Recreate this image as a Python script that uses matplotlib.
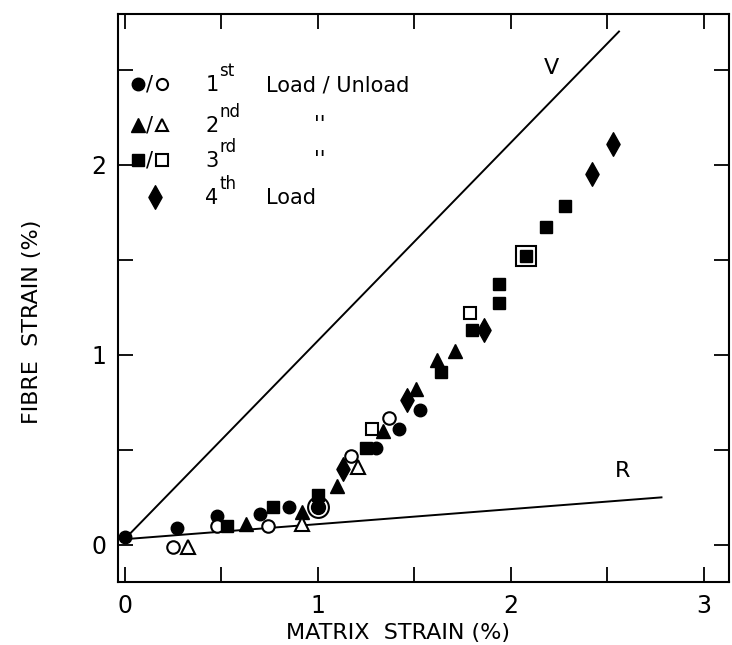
import matplotlib
matplotlib.use("Agg")
import matplotlib.pyplot as plt
from matplotlib.path import Path

# --- data (matrix strain %, fibre strain %) ---
load1_x = [0.00, 0.27, 0.48, 0.70, 0.85, 1.00, 1.30, 1.42, 1.53]
load1_y = [0.04, 0.09, 0.15, 0.16, 0.20, 0.20, 0.51, 0.61, 0.71]
unload1_x = [0.25, 0.48, 0.74, 1.17, 1.37]
unload1_y = [-0.01, 0.10, 0.10, 0.47, 0.67]
load2_x = [0.63, 0.92, 1.10, 1.34, 1.51, 1.62, 1.71]
load2_y = [0.11, 0.175, 0.31, 0.60, 0.82, 0.97, 1.02]
unload2_x = [0.33, 0.92, 1.21]
unload2_y = [-0.01, 0.11, 0.41]
load3_x = [0.53, 0.77, 1.00, 1.25, 1.64, 1.80, 1.94, 1.94, 2.08, 2.18, 2.28]
load3_y = [0.10, 0.20, 0.26, 0.51, 0.91, 1.13, 1.27, 1.37, 1.52, 1.67, 1.78]
unload3_x = [1.28, 1.79]
unload3_y = [0.61, 1.22]
load4_x = [1.13, 1.46, 1.86, 2.42, 2.53]
load4_y = [0.40, 0.76, 1.13, 1.95, 2.11]
# points where load and unload coincide (drawn with an outer ring)
ring_circ_x, ring_circ_y = [1.00], [0.20]
ring_sq_x, ring_sq_y = [2.08], [1.52]

# Voigt / Reuss bounds
v_x = [0.0, 2.56]
v_y = [0.03, 2.70]
r_x = [0.0, 2.78]
r_y = [0.03, 0.25]

plt.rcParams["font.family"] = ["DejaVu Sans"]

# diamond a bit slimmer than matplotlib's 'D'
diamond = Path([(0, 1), (0.56, 0), (0, -1), (-0.56, 0), (0, 1)],
               [Path.MOVETO, Path.LINETO, Path.LINETO, Path.LINETO, Path.CLOSEPOLY])

fig = plt.figure(figsize=(7.32, 6.45), dpi=100)
ax = fig.add_axes([0.161, 0.0977, 0.835, 0.880])

ax.plot(v_x, v_y, color="black", lw=1.4)
ax.plot(r_x, r_y, color="black", lw=1.4)

mk = dict(color="black", linestyle="none", clip_on=False)
ax.plot(load1_x, load1_y, marker="o", ms=9, **mk)
ax.plot(unload1_x, unload1_y, marker="o", ms=9, mfc="white", mew=1.5, **mk)
ax.plot(ring_circ_x, ring_circ_y, marker="o", ms=15, mfc="white", mew=1.5, **mk)
ax.plot(ring_circ_x, ring_circ_y, marker="o", ms=10, **mk)
ax.plot(load2_x, load2_y, marker="^", ms=10, **mk)
ax.plot(unload2_x, unload2_y, marker="^", ms=10, mfc="white", mew=1.5, **mk)
ax.plot(load3_x, load3_y, marker="s", ms=8.5, **mk)
ax.plot(unload3_x, unload3_y, marker="s", ms=8.5, mfc="white", mew=1.5, **mk)
ax.plot(ring_sq_x, ring_sq_y, marker="s", ms=14, mfc="white", mew=1.5, **mk)
ax.plot(ring_sq_x, ring_sq_y, marker="s", ms=9, **mk)
ax.plot(load4_x, load4_y, marker=diamond, ms=17, **mk)

# line labels
ax.text(2.21, 2.51, "V", fontsize=16, ha="center", va="center")
ax.text(2.58, 0.39, "R", fontsize=16, ha="center", va="center")

# hand-drawn style legend (axes fraction positions)
tr = ax.transAxes
rows = [0.877, 0.805, 0.743, 0.678]
lg = dict(transform=tr, color="black", linestyle="none", clip_on=False)
ax.plot([0.033], [rows[0]], marker="o", ms=9, **lg)
ax.plot([0.072], [rows[0]], marker="o", ms=8, mfc="white", mew=1.5, **lg)
ax.plot([0.033], [rows[1]], marker="^", ms=10, **lg)
ax.plot([0.072], [rows[1]], marker="^", ms=9, mfc="white", mew=1.5, **lg)
ax.plot([0.033], [rows[2]], marker="s", ms=9, **lg)
ax.plot([0.072], [rows[2]], marker="s", ms=8, mfc="white", mew=1.5, **lg)
ax.plot([0.060], [rows[3]], marker=diamond, ms=17, **lg)
for r in rows[:3]:
    ax.text(0.052, r, "/", transform=tr, fontsize=15, ha="center", va="center")

ords = [("1", "st"), ("2", "nd"), ("3", "rd"), ("4", "th")]
for r, (n, s) in zip(rows, ords):
    ax.text(0.143, r - 0.012, n, transform=tr, fontsize=15, ha="left", va="baseline")
    ax.text(0.166, r + 0.014, s, transform=tr, fontsize=12, ha="left", va="baseline")
ax.text(0.243, rows[0] - 0.012, "Load / Unload", transform=tr, fontsize=15,
        ha="left", va="baseline")
ax.text(0.330, rows[1], "''", transform=tr, fontsize=15, ha="center", va="center")
ax.text(0.330, rows[2], "''", transform=tr, fontsize=15, ha="center", va="center")
ax.text(0.243, rows[3] - 0.012, "Load", transform=tr, fontsize=15,
        ha="left", va="baseline")

ax.set_xlim(-0.035, 3.13)
ax.set_ylim(-0.195, 2.79)

ax.set_xticks([0, 0.5, 1, 1.5, 2, 2.5, 3])
ax.set_xticklabels(["0", "", "1", "", "2", "", "3"])
ax.set_yticks([0, 0.5, 1, 1.5, 2, 2.5])
ax.set_yticklabels(["0", "", "1", "", "2", ""])
ax.tick_params(direction="in", length=11, width=1.3, labelsize=17,
               top=True, right=True, pad=8)
ax.tick_params(axis="x", pad=9)
for sp in ax.spines.values():
    sp.set_linewidth(1.5)

ax.set_xlabel("MATRIX  STRAIN (%)", fontsize=16)
ax.set_ylabel("FIBRE  STRAIN (%)", fontsize=16)
ax.xaxis.set_label_coords(0.458, -0.072)
ax.yaxis.set_label_coords(-0.124, 0.458)

fig.savefig("out.png", dpi=100)
